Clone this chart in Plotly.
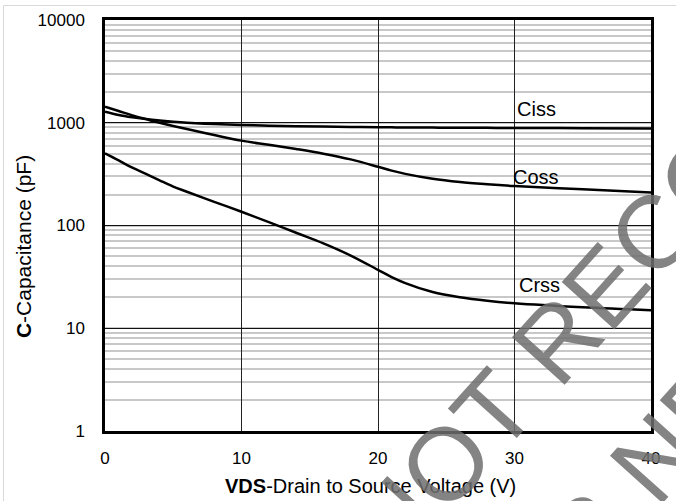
import numpy as np
import plotly.graph_objects as go

# ---- data ----
vds = [0, 1, 2, 3, 4, 5, 6, 8, 10, 12, 14, 16, 18, 20, 21, 22, 24, 26, 28, 30, 35, 40]
ciss = [1280, 1190, 1130, 1085, 1050, 1022, 1000, 970, 950, 937, 926, 918, 911, 905, 902, 900, 897, 894, 892, 890, 885, 880]
coss = [1430, 1300, 1180, 1085, 1000, 930, 870, 760, 670, 610, 555, 500, 440, 373, 342, 318, 285, 265, 252, 242, 225, 210]
crss = [504, 430, 365, 318, 275, 239, 213, 170, 136, 108, 85, 67, 51, 37, 31.5, 27.5, 22.5, 20, 18.5, 17.5, 16, 15]

series_names = ["Ciss", "Coss", "Crss"]
label_x = [31.6, 31.6, 31.8]
label_y = [1361, 296, 26.4]

x_ticks = [0, 10, 20, 30, 40]
y_ticks = [1, 10, 100, 1000, 10000]

FONT = "Liberation Sans, Arial, sans-serif"

fig = go.Figure()
for name, vals in zip(series_names, [ciss, coss, crss]):
    fig.add_trace(go.Scatter(
        x=vds, y=vals, mode="lines", name=name,
        line=dict(color="black", width=2.5, shape="spline", smoothing=1.0),
        showlegend=False, hoverinfo="skip"))

annotations = []
for t, lx, ly in zip(series_names, label_x, label_y):
    annotations.append(dict(x=lx, y=np.log10(ly), xref="x", yref="y", text=t,
                            showarrow=False, xanchor="center", yanchor="middle",
                            font=dict(family=FONT, size=20, color="black")))

annotations.append(dict(x=0.487, y=-0.134, xref="paper", yref="paper",
                        text="<b>VDS</b>-Drain to Source Voltage (V)", showarrow=False,
                        xanchor="center", yanchor="middle",
                        font=dict(family=FONT, size=20, color="black")))
annotations.append(dict(x=-0.148, y=0.448, xref="paper", yref="paper",
                        text="<b>C</b>-Capacitance (pF)", showarrow=False, textangle=-90,
                        xanchor="center", yanchor="middle",
                        font=dict(family=FONT, size=21, color="black")))

# watermark
WM_FONT = "Liberation Sans, Arial, sans-serif"
WM_COLOR = "rgba(110,110,110,0.85)"
annotations.append(dict(x=(729 - 105) / 546, y=(431 - 150) / 411, xref="paper", yref="paper",
                        text="NOT RECOMMENDED", showarrow=False, textangle=-48,
                        xanchor="center", yanchor="middle",
                        font=dict(family=WM_FONT, size=103, color=WM_COLOR)))
annotations.append(dict(x=(770 - 105) / 546, y=(431 - 330) / 411, xref="paper", yref="paper",
                        text="FOR NEW DESIGN", showarrow=False, textangle=-48,
                        xanchor="center", yanchor="middle",
                        font=dict(family=WM_FONT, size=103, color=WM_COLOR)))

fig.update_layout(
    width=676, height=501,
    margin=dict(l=105, r=25, t=20, b=70, autoexpand=False),
    paper_bgcolor="white", plot_bgcolor="white",
    font=dict(family=FONT, size=17, color="black"),
    annotations=annotations,
    shapes=[dict(type="rect", xref="paper", yref="paper",
                 x0=(3.5 - 105) / 546, x1=1.1, y0=-0.3, y1=(431 - 5.5) / 411,
                 line=dict(color="#d9d9d9", width=1), layer="below")],
)
fig.update_xaxes(
    range=[0, 40], tickvals=x_ticks, ticktext=[str(v) for v in x_ticks],
    showgrid=True, gridcolor="#222222", gridwidth=1,
    showline=True, linecolor="black", linewidth=2.5, mirror=True,
    ticks="", ticklabelstandoff=10, zeroline=False,
    tickfont=dict(family=FONT, size=17, color="black"),
)
fig.update_yaxes(
    type="log", range=[0, 4], tickvals=y_ticks, ticktext=[str(v) for v in y_ticks],
    showgrid=True, gridcolor="#111111", gridwidth=1,
    minor=dict(dtick="D1", showgrid=True, gridcolor="#c8c8c8", gridwidth=1.5, ticks=""),
    showline=True, linecolor="black", linewidth=2.5, mirror=True,
    ticks="", ticklabelstandoff=14, zeroline=False,
    tickfont=dict(family=FONT, size=17, color="black"),
)

fig.write_html("out.html", config={"displayModeBar": False},
               post_script="document.body.style.margin='0';document.body.style.overflow='hidden';")
